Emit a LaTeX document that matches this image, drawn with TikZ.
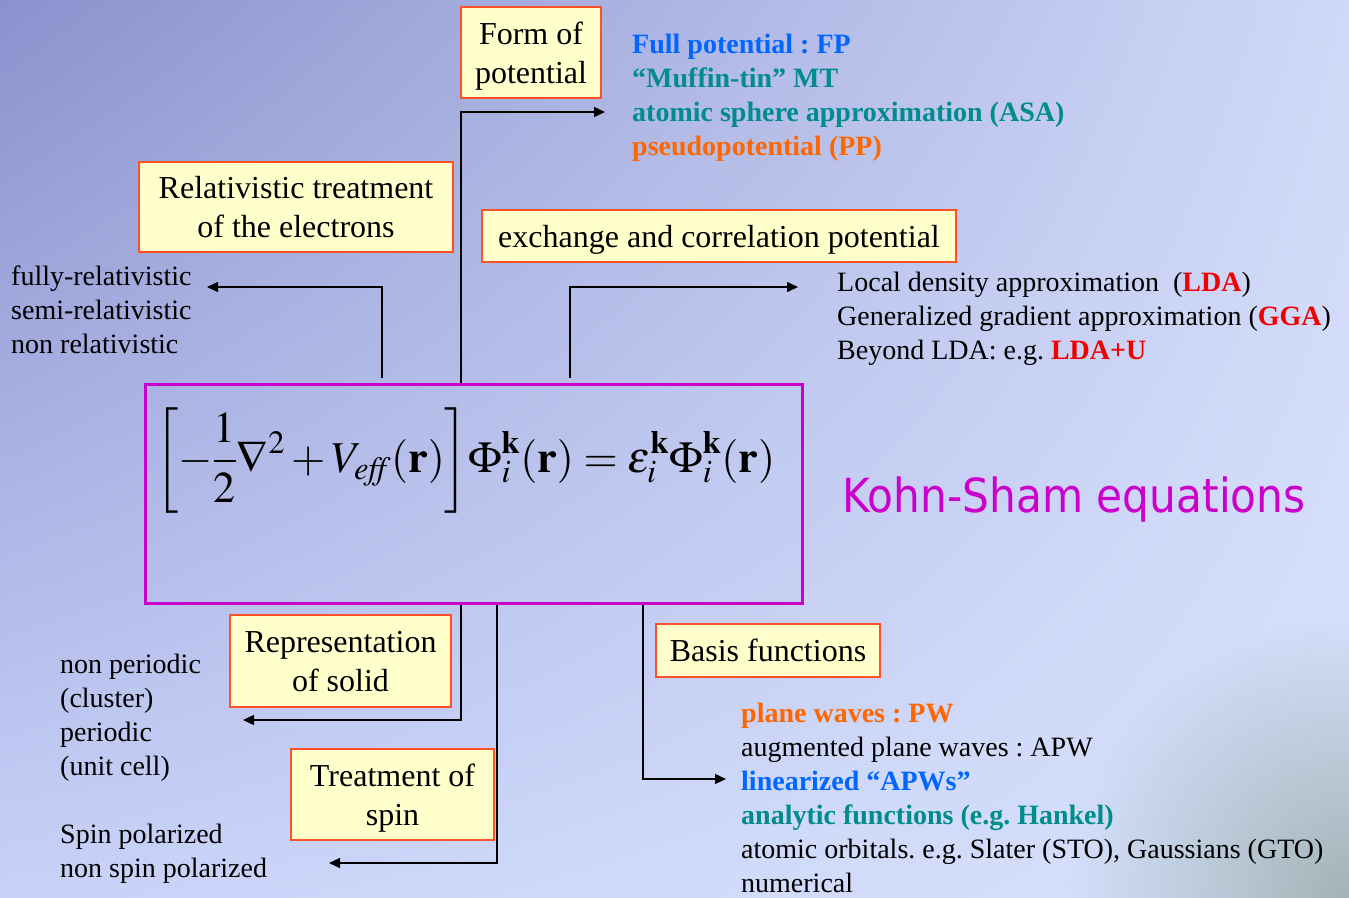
\documentclass[tikz,border=0pt]{standalone}
\usepackage{mathptmx}
\usepackage[no-math]{fontspec}
\setmainfont{Liberation Serif}
\newfontfamily\kshead[FakeStretch=0.9]{DejaVu Sans}
\usetikzlibrary{arrows.meta,fadings,shadings}
\frenchspacing

\definecolor{boxfill}{RGB}{255,255,204}
\definecolor{boxedge}{RGB}{255,80,40}
\definecolor{ksmag}{RGB}{204,0,204}
\definecolor{fpblue}{RGB}{0,102,255}
\definecolor{mtteal}{RGB}{0,140,140}
\definecolor{pporange}{RGB}{255,102,0}
\definecolor{ldared}{RGB}{240,0,0}
\definecolor{bgtl}{RGB}{138,145,205}
\definecolor{bgtr}{RGB}{208,216,248}
\definecolor{bgbl}{RGB}{200,210,248}
\definecolor{bgbr}{RGB}{216,226,252}
\definecolor{cornergrey}{RGB}{162,180,182}

\tikzfading[name=cornerfade, inner color=transparent!0, outer color=transparent!100]

\tikzset{
  labelbox/.style={draw=boxedge, fill=boxfill, line width=2pt, align=center,
    inner sep=0pt, text depth=0pt, font=\fontsize{32}{39}\selectfont},
  listtext/.style={align=left, anchor=west, inner sep=0pt,
    font=\fontsize{28}{34}\selectfont},
  conn/.style={line width=1.3pt, -{Triangle[length=11pt,width=10pt]}},
}

\begin{document}
\begin{tikzpicture}[x=1pt,y=-1pt]
  \useasboundingbox (0,0) rectangle (1349,897);
  % background
  \shade[upper left=bgtl, upper right=bgtr, lower left=bgbl, lower right=bgbr]
    (0,0) rectangle (1349,897);
  \begin{scope}
    \clip (0,0) rectangle (1349,897);
    \fill[cornergrey, path fading=cornerfade] (1349,897) circle[radius=280];
  \end{scope}

  % connector ends
  \coordinate (rel-foot) at (382,378);
  \coordinate (rel-tip) at (207,287);
  \coordinate (form-foot) at (461,384);
  \coordinate (form-tip) at (605,112);
  \coordinate (xc-foot) at (570,378);
  \coordinate (xc-tip) at (798,287);
  \coordinate (rep-foot) at (461,603);
  \coordinate (rep-tip) at (243,720);
  \coordinate (spin-foot) at (497,603);
  \coordinate (spin-tip) at (329,863);
  \coordinate (basis-foot) at (643,603);
  \coordinate (basis-tip) at (726,779);

  % connectors
  \draw[conn] (rel-foot) |- (rel-tip);
  \draw[conn] (form-foot) |- (form-tip);
  \draw[conn] (xc-foot) |- (xc-tip);
  \draw[conn] (rep-foot) |- (rep-tip);
  \draw[conn] (spin-foot) |- (spin-tip);
  \draw[conn] (basis-foot) |- (basis-tip);

  % Kohn-Sham box
  \node[draw=ksmag, line width=3pt, minimum width=657pt, minimum height=219pt,
    inner sep=0pt] (ks) at (473.5,493.5) {};
  \node[anchor=west, inner sep=0pt, font=\fontsize{44}{52}\selectfont] (eq) at (155,461)
    {$\displaystyle\left[-\frac{1}{2}\nabla^{2}+V_{\mathit{eff}}(\mathbf{r})\right]\!
      \Phi_{i}^{\mathbf{k}}(\mathbf{r})=\varepsilon_{i}^{\mathbf{k}}\Phi_{i}^{\mathbf{k}}(\mathbf{r})$};
  \node[anchor=west, inner sep=0pt, text=ksmag, font=\kshead\fontsize{47}{56}\selectfont]
    (kstitle) at (842,500) {Kohn-Sham equations};

  % label boxes
  \node[labelbox, minimum width=140pt, minimum height=91pt] (form) at (531,52.5)
    {Form of\\potential};
  \node[labelbox, minimum width=314pt, minimum height=90pt] (rel) at (296,207)
    {Relativistic treatment\\of the electrons};
  \node[labelbox, minimum width=474pt, minimum height=52pt] (xc) at (719,236)
    {exchange and correlation potential};
  \node[labelbox, minimum width=221pt, minimum height=92pt] (rep) at (340.5,661)
    {Representation\\of solid};
  \node[labelbox, minimum width=203pt, minimum height=91pt] (spin) at (392.5,794.5)
    {Treatment of\\spin};
  \node[labelbox, minimum width=224pt, minimum height=53pt] (basis) at (768,650.5)
    {Basis functions};

  % lists
  \node[listtext, font=\bfseries\fontsize{28}{34}\selectfont] (fplist) at (632,98)
    {\color{fpblue}Full potential : FP\\
     \color{mtteal}“Muffin-tin” MT\\
     \color{mtteal}atomic sphere approximation (ASA)\\
     \color{pporange}pseudopotential (PP)};
  \node[listtext] (rellist) at (11,310)
    {fully-relativistic\\semi-relativistic\\non relativistic};
  \node[listtext] (xclist) at (837,319)
    {Local density approximation\ \ (\textbf{\color{ldared}LDA})\\
     Generalized gradient approximation (\textbf{\color{ldared}GGA})\\
     Beyond LDA: e.g. \textbf{\color{ldared}LDA+U}};
  \node[listtext] (replist) at (60,718)
    {non periodic\\(cluster)\\periodic\\(unit cell)};
  \node[listtext] (spinlist) at (60,854)
    {Spin polarized\\non spin polarized};
  \node[listtext] (basislist) at (741,798)
    {\textbf{\color{pporange}plane waves : PW}\\
     augmented plane waves : APW\\
     \textbf{\color{fpblue}linearized “APWs”}\\
     \textbf{\color{mtteal}analytic functions (e.g. Hankel)}\\
     atomic orbitals. e.g. Slater (STO), Gaussians (GTO)\\
     numerical};
\end{tikzpicture}
\end{document}
